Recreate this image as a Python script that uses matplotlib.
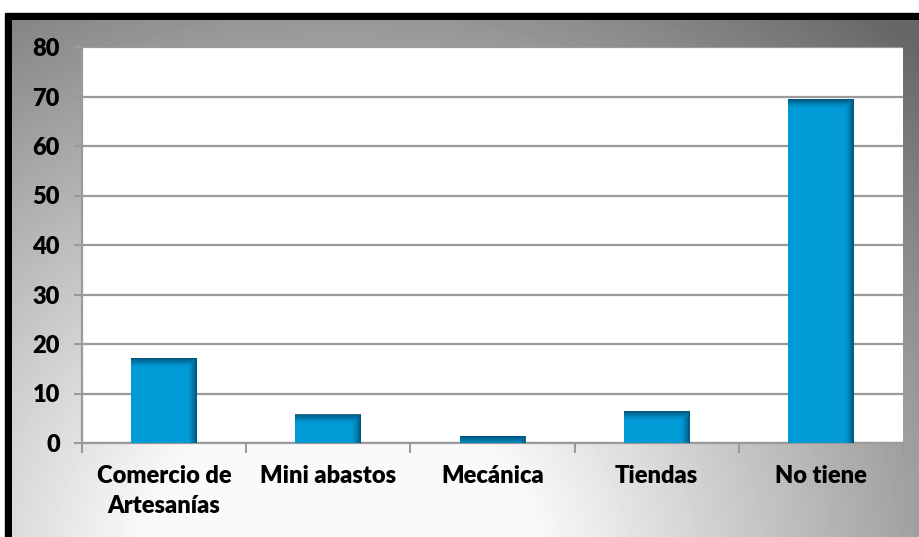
import numpy as np
import matplotlib
matplotlib.use("Agg")
from matplotlib import pyplot as plt
from matplotlib.patches import Rectangle

categories = ["Comercio de\nArtesanías", "Mini abastos", "Mecánica", "Tiendas", "No tiene"]
values = [17.1, 5.7, 1.4, 6.4, 69.4]
yticks = [0, 10, 20, 30, 40, 50, 60, 70, 80]

plt.rcParams['font.family'] = ['Lato', 'DejaVu Sans']
plt.rcParams['font.weight'] = 'heavy'

W, H = 920, 537
fig = plt.figure(figsize=(W / 100, H / 100), dpi=100)

# fondo: marco negro + degradado gris
bg = fig.add_axes([0, 0, 1, 1])
bg.axis('off')
bg.add_patch(Rectangle((5, 13), W, H, color='black', zorder=1))
yy, xx = np.mgrid[20:H:1.0, 12:W:1.0]
dist = np.sqrt((xx - 340) ** 2 + ((yy - 580) * 1.1) ** 2)
v = np.clip(0.98 - (dist - 200) / 560 * 0.52, 0.40, 0.98)
bg.imshow(v, cmap='gray', vmin=0, vmax=1, extent=(12, W, H, 20), aspect='auto',
          interpolation='bilinear', zorder=2)
bg.set_xlim(0, W)
bg.set_ylim(H, 0)

ax = fig.add_axes([82 / W, 1 - 443 / H, (903 - 82) / W, (443 - 47) / H])
ax.set_facecolor('white')
x = np.arange(len(categories))
width = 0.4
base = '#009ad6'
ax.bar(x, values, width, color=base, zorder=3)

ax.set_xlim(-0.5, len(categories) - 0.5)
ax.set_ylim(0, 80)

# sombreado interior de las barras (borde superior y derecho)
fig.canvas.draw()
px_x = ax.transData.transform((1, 0))[0] - ax.transData.transform((0, 0))[0]
px_y = ax.transData.transform((0, 1))[1] - ax.transData.transform((0, 0))[1]
sh = 9.0
dark = np.array([0, 70 / 255, 105 / 255])
for xi, val in zip(x, values):
    wpx = int(width * px_x)
    hpx = max(int(val * px_y), 2)
    cols = np.arange(wpx) + 0.5
    rows = np.arange(hpx) + 0.5
    fr = np.clip(1 - (wpx - cols) / sh, 0, 1)
    ft = np.clip(1 - rows / sh, 0, 1)
    a = np.maximum(fr[None, :], ft[:, None]) ** 1.3 * 0.85
    img = np.zeros((hpx, wpx, 4))
    img[..., :3] = dark
    img[..., 3] = a
    ax.imshow(img, extent=(xi - width / 2, xi + width / 2, 0, val), aspect='auto',
              zorder=4, interpolation='bilinear')
ax.set_xlim(-0.5, len(categories) - 0.5)
ax.set_ylim(0, 80)
ax.set_aspect('auto')

ax.set_yticks(yticks)
ax.yaxis.grid(True, color='#9a9a9a', linewidth=1.6, zorder=1)
ax.set_axisbelow(True)
ax.tick_params(axis='y', length=6, width=1.5, color='#9a9a9a', pad=10, labelsize=17)

ax.set_xticks(x)
ax.set_xticklabels(categories, fontsize=17, linespacing=1.45)
ax.set_xticks(np.arange(-0.5, len(categories)), minor=True)
ax.tick_params(axis='x', which='major', length=0, pad=16)
ax.tick_params(axis='x', which='minor', length=7, width=1.5, color='#9a9a9a')

for s in ['top', 'right']:
    ax.spines[s].set_visible(False)
for s in ['left', 'bottom']:
    ax.spines[s].set_color('#9a9a9a')
    ax.spines[s].set_linewidth(1.6)

fig.savefig('out.png', dpi=100)
